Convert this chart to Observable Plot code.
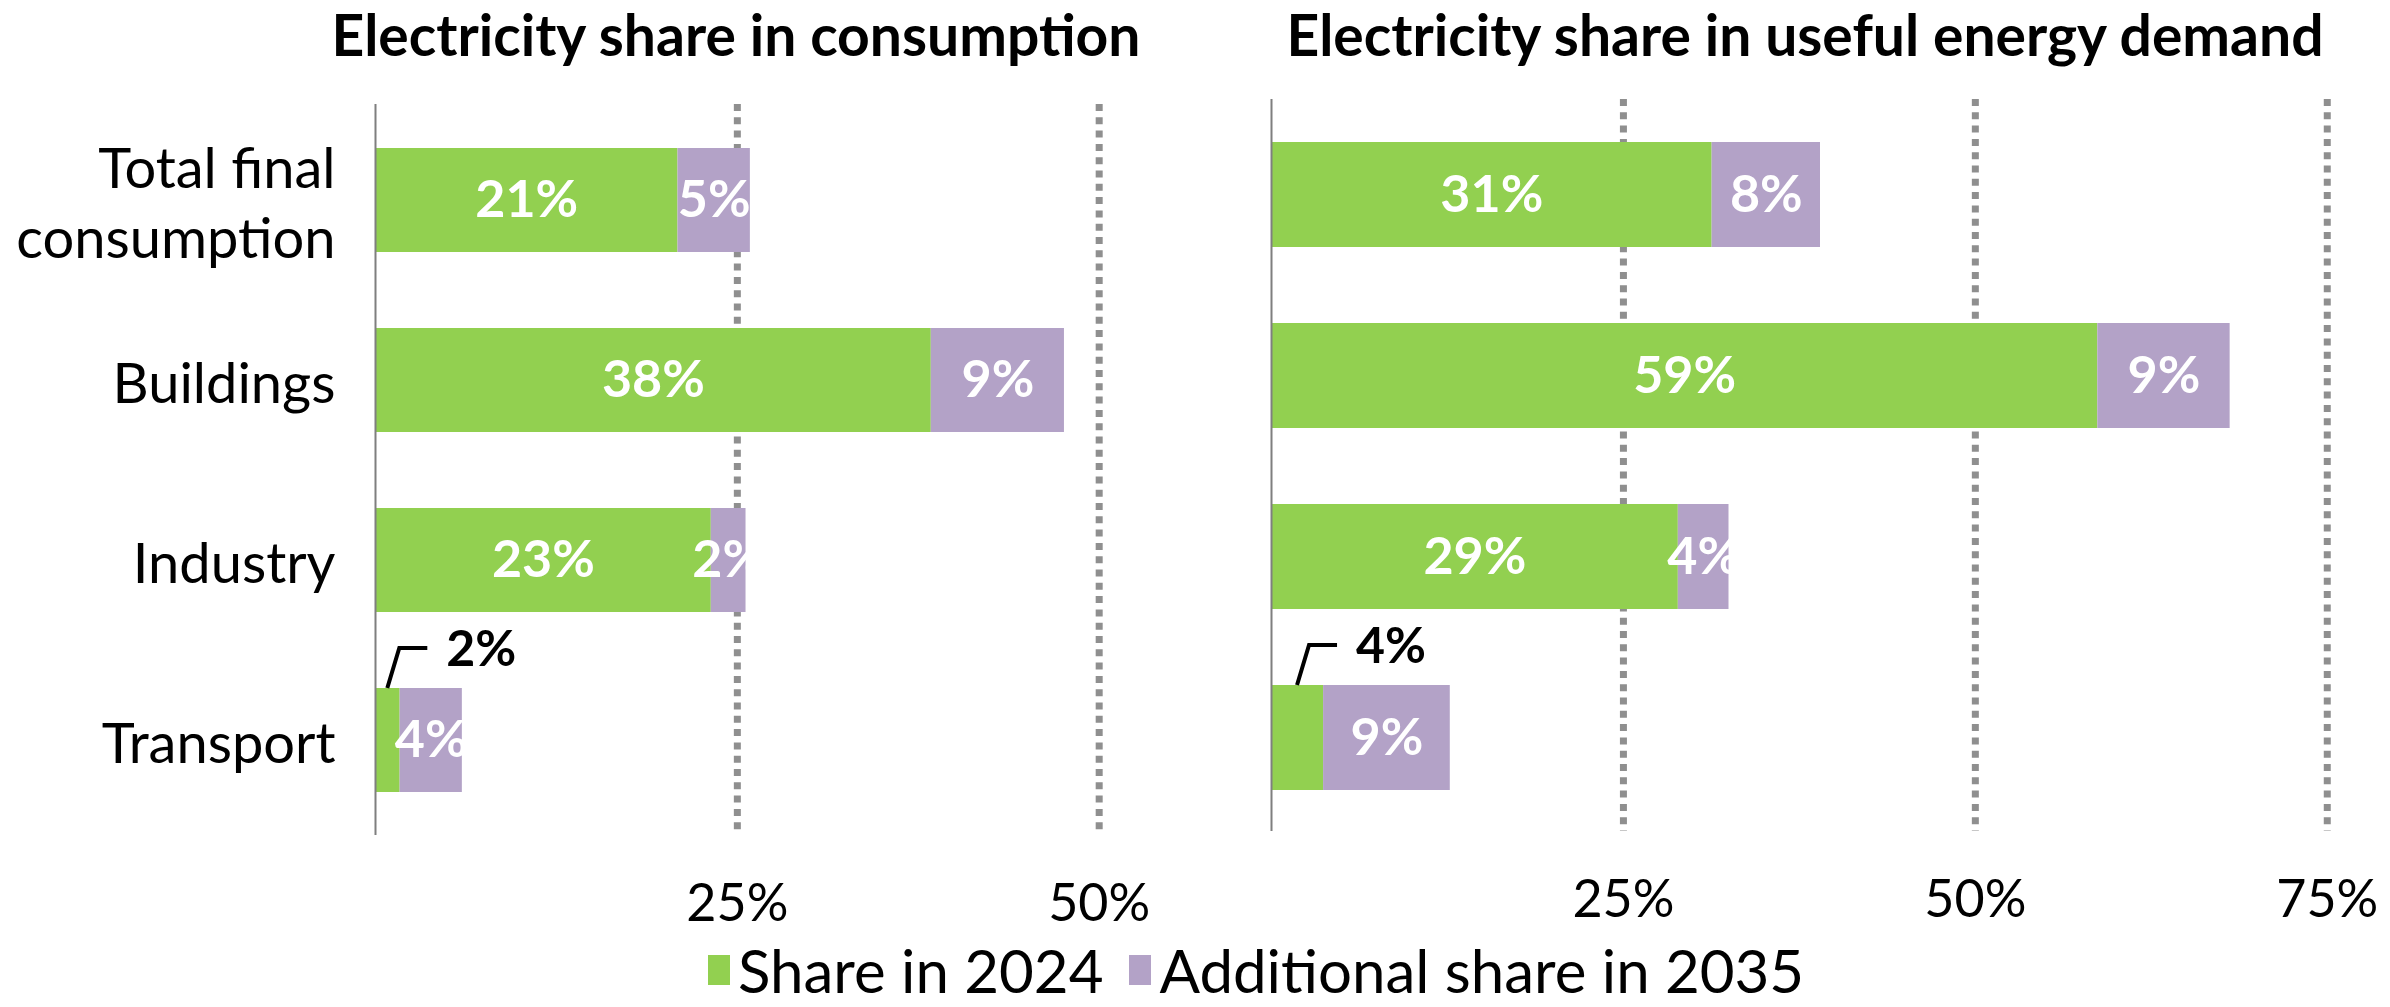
<!DOCTYPE html>
<html><head><meta charset="utf-8">
<script src="https://cdn.jsdelivr.net/npm/d3@7"></script>
<script src="https://cdn.jsdelivr.net/npm/@observablehq/plot@0.6"></script>
<style>
html,body{margin:0;padding:0;background:#fff;}
#root{position:relative;width:2390px;height:1007px;overflow:hidden;font-family:Lato, sans-serif;color:#000;}
.title{position:absolute;top:0;font-weight:700;font-size:57px;white-space:nowrap;transform:translateX(-50%);line-height:68px;}
.panel{position:absolute;top:0;}
#legend{position:absolute;top:934px;left:708px;display:flex;align-items:center;font-size:60px;line-height:72px;white-space:nowrap;}
.sw{width:22px;height:30px;display:inline-block;margin-right:8px;}
</style></head><body>
<div id="root">
  <div class="title" style="left:736px">Electricity share in consumption</div>
  <div class="title" style="left:1805px">Electricity share in useful energy demand</div>
  <div class="panel" id="left" style="left:0px"></div>
  <div class="panel" id="right" style="left:1200px"></div>
  <div id="legend"></div>
</div>
<script>
const categories = ["Total final consumption", "Buildings", "Industry", "Transport"];
const seriesNames = ["Share in 2024", "Additional share in 2035"];
const seriesColors = ["#92D050", "#B3A2C7"];

// Left panel: electricity share in consumption (%)
const consumption2024 = [20.9, 38.4, 23.2, 1.7];
const consumptionAdd2035 = [5.0, 9.2, 2.4, 4.3];
const consumptionTicks = [25, 50];

// Right panel: electricity share in useful energy demand (%)
const useful2024 = [31.3, 58.7, 28.9, 3.7];
const usefulAdd2035 = [7.7, 9.4, 3.6, 9.0];
const usefulTicks = [25, 50, 75];

// categories whose 2024 value is shown with a callout instead of inside the bar
const calloutCategories = ["Transport"];

function toRows(v24, add) {
  return categories.flatMap((c, i) => [
    {category: c, series: seriesNames[0], value: v24[i]},
    {category: c, series: seriesNames[1], value: add[i]}
  ]);
}
const pct = v => Math.round(v) + "%";
const isCallout = d => d.series === seriesNames[0] && calloutCategories.includes(d.category);

function calloutMark(rows) {
  return (index, scales) => {
    const g = d3.create("svg:g");
    const y = scales.y;
    for (const d of rows.filter(isCallout)) {
      const xm = scales.x(d.value / 2);
      const yTop = y(d.category);
      g.append("path")
        .attr("d", d3.line()([[xm, yTop], [xm + 12, yTop - 40], [xm + 40, yTop - 40]]))
        .attr("fill", "none").attr("stroke", "#000").attr("stroke-width", 4);
      g.append("text")
        .attr("x", xm + 59).attr("y", yTop - 40).attr("dy", "0.36em")
        .attr("text-anchor", "start")
        .attr("font-weight", "bold").attr("font-size", 50).attr("fill", "#000")
        .text(pct(d.value));
    }
    return g.node();
  };
}

function panel({rows, width, marginLeft, marginRight, marginTop, marginBottom, xMax, ticks, showY, gridTop}) {
  const marks = [
    Plot.ruleX(ticks, {stroke: "#8f8f8f", strokeWidth: 7, strokeDasharray: "7,6.3", insetTop: -gridTop, insetBottom: -3}),
    Plot.barX(rows, {x: "value", y: "category", fill: "series"}),
    Plot.ruleX([0], {stroke: "#7f7f7f", strokeWidth: 2, insetTop: -gridTop, insetBottom: -3}),
    Plot.text(rows, Plot.stackX({x: "value", y: "category", z: "series",
      text: d => isCallout(d) ? null : pct(d.value),
      fill: "white", fontWeight: "bold", fontSize: 52})),
    calloutMark(rows),
    Plot.axisX(ticks, {tickSize: 0, tickPadding: 52, tickFormat: d => d + "%", fontSize: 52, label: null})
  ];
  if (showY) marks.push(Plot.axisY({tickSize: 0, tickPadding: 40, fontSize: 56, lineHeight: 1.25,
    tickFormat: d => d.replace(" consumption", "\nconsumption"), label: null}));
  return Plot.plot({
    width, height: 940, marginLeft, marginRight, marginTop, marginBottom,
    style: {fontFamily: "Lato, sans-serif", fontSize: "52px", color: "#000", background: "transparent", overflow: "visible"},
    x: {domain: [0, xMax], label: null},
    y: {domain: categories, paddingInner: 0.42, paddingOuter: 0.21, label: null, axis: showY ? undefined : null},
    color: {domain: seriesNames, range: seriesColors},
    marks
  });
}

document.getElementById("left").append(panel({
  rows: toRows(consumption2024, consumptionAdd2035),
  width: 1200, marginLeft: 375, marginRight: 0, marginTop: 109, marginBottom: 108,
  xMax: 57, ticks: consumptionTicks, showY: true, gridTop: 5
}));
document.getElementById("right").append(panel({
  rows: toRows(useful2024, usefulAdd2035),
  width: 1190, marginLeft: 71, marginRight: 21, marginTop: 103, marginBottom: 112,
  xMax: 78, ticks: usefulTicks, showY: false, gridTop: 4
}));

const legend = document.getElementById("legend");
seriesNames.forEach((s, i) => {
  const item = document.createElement("span");
  item.style.display = "inline-flex"; item.style.alignItems = "center";
  item.style.marginRight = i === 0 ? "26px" : "0";
  const sw = document.createElement("span"); sw.className = "sw"; sw.style.background = seriesColors[i];
  item.append(sw, document.createTextNode(s));
  legend.append(item);
});
</script>
</body></html>
